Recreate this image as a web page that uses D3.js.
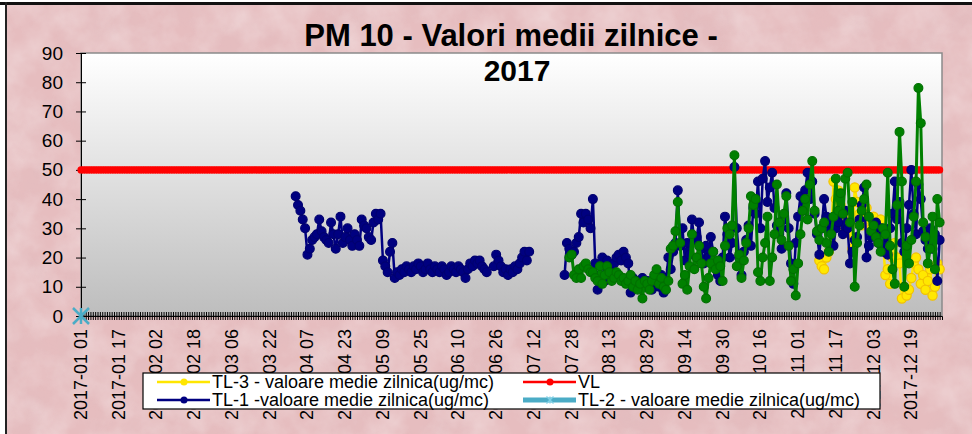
<!DOCTYPE html>
<html>
<head>
<meta charset="utf-8">
<script src="https://cdn.jsdelivr.net/npm/d3@7"></script>
<style>
  body { margin: 0; background: #fff; }
  svg { display: block; font-family: "Liberation Sans", Arial, sans-serif; }
</style>
</head>
<body>
<div id="chart"></div>
<script>
// ---- data (daily means, ug/mc) ----
const axisStart = "2017-01-01";
const axisEnd = "2018-01-01";
const yTicks = [0, 10, 20, 30, 40, 50, 60, 70, 80, 90];

const vlValue = 50;

const tl2Start = "2017-01-01";
const tl2Values = [0];

// TL-1 (navy): from 2 April, gap mid-July to end of July
const tl1Start = "2017-04-02";
const tl1Values = [
  41, 38, 36, 33, 30, 21, 23, 26, 27, 28,
  33, 29, 27, 26, 25, 32, 28, 23, 28, 34,
  25, 27, 30, 26, 24, 28, 26, 24, 33, 31,
  30, 27, 26, 32, 35, 33, 35, 19, 17, 15,
  22, 25, 13, 15, 14, 16, 15, 17, 16, 15,
  17, 16, 18, 17, 15, 16, 18, 16, 15, 17,
  16, 15, 17, 16, 14, 15, 17, 16, 15, 17,
  16, 15, 13, 16, 18, 17, 19, 18, 19, 17,
  16, 15, null, null, 17, 21, 19, 17, 15, 16,
  14, 16, 15, 17, 16, 18, 20, 22, 19, 22,
  null, null, null, null, null, null, null, null, null, null, null, null, null, null,
  14, 25, 23, 21, 22, 25, 27, 35, 32, 35,
  33, 30, 40, 18, 9, 14, 20, 12, 19, 17,
  16, 18, 20, 21, 19, 22, 20, 18, 8, 13,
  10, 12, 11, 13, 10, 12, 11, 9, 13, 12,
  10, 14, 8, 12, 20, 16, 22, 25, 43, 24,
  30, 19, 25, 21, 33, 26, 27, 32, 23, 18,
  24, 20, 27, 22, 17, 14, 12, 20, 34, 28,
  20, 25, 51, 30, 20, 14, 22, 26, 31, 24,
  37, 35, 46, 30, 47, 53, 39, 44, 49, 37,
  31, 28, 23, 33, 42, 30, 18, 11, 25, 34,
  41, 36, 43, 49, 40, 46, 35, 28, 21, 30,
  40, 34, 29, 33, 24, 30, 32, 35, 28, 36,
  30, 18, 22, 26, 27, 33, 38, 44, 20, 24,
  27, 29, 32, 25, 30, 22, 27, 21, 30, 35,
  46, 33, 39, 25, 22, 30, 38, 50, 35, 28,
  45, 40, 29, 26, 23, 30, 23, 28, 12, 26
];

// green station (not in the legend), from 27 July
const tl4Start = "2017-07-27";
const tl4Values = [
  20, 21, 14, 13, 16, 13, 17, 18, 16, 15,
  15, 13, 12, 17, 11, 14, 17, 15, 12, 13,
  15, 14, 12, 13, 11, 12, 14, 10, 12, 9,
  11, 6, 12, 11, 9, 12, 14, 16, 11, 13,
  10, 9, 12, 23, 24, 29, 39, 25, 11, 14,
  9, 17, 28, 16, 20, 24, 18, 10, 6, 13,
  18, 22, 16, 19, 17, 12, 24, 30, 28, 31,
  55, 17, 21, 13, 19, 25, 30, 41, 38, 40,
  15, 12, 20, 25, 34, 12, 20, 28, 45, 32,
  26, 35, 41, 24, 12, 16, 7, 18, 28, 36,
  40, 33, 45, 53, 36, 29, 26, 30, 32, 25,
  22, 28, 34, 47, 36, 42, 35, 47, 49, 32,
  39, 10, 25, 31, 36, 40, 45, 34, 29, 31,
  27, 25, 22, 30, 28, 49, 24, 16, 11, 38,
  63, 46, 10, 24, 18, 26, 34, 46, 78, 66,
  32, 27, 18, 23, 34, 16, 40, 32
];

// TL-3 (yellow), from 10 November
const tl3Start = "2017-11-10";
const tl3Values = [
  19, 17, 16, 20, 22, 25, 46, 40, 43, 38,
  32, 30, 35, 28, 23, 44, 39, 35, 31, 34,
  37, 33, 30, 34, 31, 28, 33, 25, 14, 16,
  11, 20, 25, 20, 18, 6, 10, 7, 9, 13,
  18, 20, 16, 11, 14, 9, 12, 16, 7, 10,
  18, 16
];

const legendLabels = [
  "TL-3 - valoare medie zilnica(ug/mc)",
  "VL",
  "TL-1 -valoare medie zilnica(ug/mc)",
  "TL-2 - valoare medie zilnica(ug/mc)"
];

// ---- layout ----
const svgWidth = 972, svgHeight = 434;
const plot = { left: 81, right: 942, top: 53, bottom: 316 };

const parseDate = d3.utcParse("%Y-%m-%d");
const toPoints = (start, values) => {
    const s = parseDate(start);
    return values.map((v, i) => ({ date: d3.utcDay.offset(s, i), value: v }));
};

const svg = d3.select("#chart")
    .append("svg")
    .attr("width", svgWidth)
    .attr("height", svgHeight);

const defs = svg.append("defs");

// pink paper texture: light and dark blotches
const paper = defs.append("filter").attr("id", "paper")
    .attr("x", 0).attr("y", 0).attr("width", "100%").attr("height", "100%");
paper.append("feTurbulence")
    .attr("type", "fractalNoise")
    .attr("baseFrequency", "0.03")
    .attr("numOctaves", 4)
    .attr("seed", 7)
    .attr("result", "noise");
paper.append("feColorMatrix")
    .attr("in", "noise")
    .attr("type", "matrix")
    .attr("values", "0 0 0 0 1  0 0 0 0 1  0 0 0 0 1  1.2 0 0 0 -0.4");

const dark = defs.append("filter").attr("id", "paperDark")
    .attr("x", 0).attr("y", 0).attr("width", "100%").attr("height", "100%");
dark.append("feTurbulence")
    .attr("type", "fractalNoise")
    .attr("baseFrequency", "0.02")
    .attr("numOctaves", 3)
    .attr("seed", 21)
    .attr("result", "noise");
dark.append("feColorMatrix")
    .attr("in", "noise")
    .attr("type", "matrix")
    .attr("values", "0 0 0 0 0.72  0 0 0 0 0.5  0 0 0 0 0.52  0 1.3 0 0 -0.55");

const grad = defs.append("linearGradient").attr("id", "plotGrad")
    .attr("x1", 0).attr("y1", 0).attr("x2", 0).attr("y2", 1);
grad.append("stop").attr("offset", "0%").attr("stop-color", "#ffffff");
grad.append("stop").attr("offset", "100%").attr("stop-color", "#bdbdbd");

// outer frame
svg.append("rect").attr("width", svgWidth).attr("height", svgHeight).attr("fill", "#ffffff");
svg.append("rect").attr("x", 0).attr("y", 2).attr("width", svgWidth).attr("height", 3).attr("fill", "#111");
svg.append("rect").attr("x", 5).attr("y", 2).attr("width", 2).attr("height", svgHeight).attr("fill", "#222");
svg.append("rect").attr("x", 7).attr("y", 5).attr("width", svgWidth - 7).attr("height", svgHeight - 5).attr("fill", "#e6bdbf");
svg.append("rect").attr("x", 7).attr("y", 5).attr("width", svgWidth - 7).attr("height", svgHeight - 5)
    .attr("filter", "url(#paperDark)").attr("opacity", 0.5);
svg.append("rect").attr("x", 7).attr("y", 5).attr("width", svgWidth - 7).attr("height", svgHeight - 5)
    .attr("filter", "url(#paper)").attr("opacity", 0.45);

// scales
const x = d3.scaleUtc()
    .domain([parseDate(axisStart), parseDate(axisEnd)])
    .range([plot.left, plot.right]);

const y = d3.scaleLinear()
    .domain([0, 90])
    .range([plot.bottom, plot.top]);

// plot area
svg.append("rect")
    .attr("x", plot.left).attr("y", plot.top)
    .attr("width", plot.right - plot.left).attr("height", plot.bottom - plot.top)
    .attr("fill", "url(#plotGrad)")
    .attr("stroke", "#8a8a8a")
    .attr("stroke-width", 1.5);

// title
svg.append("text")
    .attr("x", 511).attr("y", 46)
    .attr("text-anchor", "middle")
    .style("font-size", "31px").style("font-weight", "bold")
    .text("PM 10 - Valori medii zilnice -");
svg.append("text")
    .attr("x", 517).attr("y", 81)
    .attr("text-anchor", "middle")
    .style("font-size", "30px").style("font-weight", "bold")
    .text("2017");

// y axis
const yAxis = svg.append("g")
    .attr("transform", `translate(${plot.left}, 0)`)
    .call(d3.axisLeft(y).tickValues(yTicks).tickSize(5).tickPadding(13));
yAxis.select(".domain").attr("stroke", "#000");
yAxis.selectAll(".tick line").attr("x2", 5).attr("x1", -5).attr("stroke", "#000");
yAxis.selectAll(".tick text").style("font-size", "19px").attr("fill", "#000")
    .attr("font-family", null);

// x axis: a tick for every day, labels every 16 days
const days = d3.utcDay.range(parseDate(axisStart), parseDate(axisEnd));
const labelDays = d3.utcDay.range(parseDate(axisStart), parseDate(axisEnd), 16);

const xAxis = svg.append("g")
    .attr("transform", `translate(0, ${plot.bottom})`)
    .call(d3.axisBottom(x).tickValues(days).tickSize(4).tickFormat(""));
xAxis.select(".domain").attr("stroke", "#000");
xAxis.selectAll(".tick line").attr("y1", -4).attr("stroke", "#000");

const fmt = d3.utcFormat("%Y-%m %d");
svg.append("g")
    .selectAll("text")
    .data(labelDays)
    .enter().append("text")
    .attr("transform", d => `translate(${x(d) + 6}, ${plot.bottom + 13}) rotate(-90)`)
    .attr("text-anchor", "end")
    .style("font-size", "18px")
    .attr("fill", "#000")
    .text(d => fmt(d));

// series
const line = d3.line()
    .defined(d => d.value != null)
    .x(d => x(d.date))
    .y(d => y(d.value));

function drawSeries(points, stroke, width, fill, markerStroke, r) {
    const g = svg.append("g");
    g.append("path")
        .datum(points)
        .attr("fill", "none")
        .attr("stroke", stroke)
        .attr("stroke-width", width)
        .attr("stroke-linejoin", "round")
        .attr("d", line);
    g.selectAll("circle")
        .data(points.filter(d => d.value != null))
        .enter().append("circle")
        .attr("cx", d => x(d.date))
        .attr("cy", d => y(d.value))
        .attr("r", r)
        .attr("fill", fill)
        .attr("stroke", markerStroke)
        .attr("stroke-width", 1.2);
}

const vlPoints = days.map(d => ({ date: d, value: vlValue }));
drawSeries(vlPoints, "#ff0000", 6, "#ff0000", "#ff0000", 3);
drawSeries(toPoints(tl3Start, tl3Values), "#ffe600", 2.5, "#ffe800", "#f2c200", 4.6);
drawSeries(toPoints(tl1Start, tl1Values), "#000080", 2.5, "#000080", "#000070", 4.4);
drawSeries(toPoints(tl4Start, tl4Values), "#008000", 3, "#008000", "#007000", 4.4);

// TL-2 star marker
const star = (cx, cy, s) => `M${cx},${cy - s}L${cx},${cy + s}M${cx - s},${cy - s}L${cx + s},${cy + s}M${cx - s},${cy + s}L${cx + s},${cy - s}`;
svg.append("g")
    .selectAll("path")
    .data(toPoints(tl2Start, tl2Values))
    .enter().append("path")
    .attr("d", d => star(x(d.date), y(d.value), 8))
    .attr("stroke", "#4bacc6")
    .attr("stroke-width", 2.5)
    .attr("fill", "none");

// legend
const legend = svg.append("g");
legend.append("rect")
    .attr("x", 143).attr("y", 373)
    .attr("width", 737).attr("height", 36)
    .attr("fill", "#fff")
    .attr("stroke", "#000")
    .attr("stroke-width", 1.2);

const legendItems = [
    { label: legendLabels[0], color: "#ffe600", mark: "dot", x0: 157, yy: 382 },
    { label: legendLabels[1], color: "#ff0000", mark: "dot", x0: 523, yy: 382 },
    { label: legendLabels[2], color: "#000080", mark: "dot", x0: 157, yy: 400 },
    { label: legendLabels[3], color: "#4bacc6", mark: "star", x0: 523, yy: 400 }
];

legendItems.forEach(it => {
    legend.append("line")
        .attr("x1", it.x0).attr("x2", it.x0 + 53)
        .attr("y1", it.yy).attr("y2", it.yy)
        .attr("stroke", it.color)
        .attr("stroke-width", it.mark === "star" ? 5 : 2.5);
    if (it.mark === "dot") {
        legend.append("circle")
            .attr("cx", it.x0 + 27).attr("cy", it.yy).attr("r", 3.5)
            .attr("fill", it.color);
    } else {
        legend.append("path")
            .attr("d", star(it.x0 + 27, it.yy, 3.5))
            .attr("stroke", "#7fd0e6").attr("stroke-width", 1.2).attr("fill", "none");
    }
    legend.append("text")
        .attr("x", it.x0 + 55).attr("y", it.yy + 6)
        .style("font-size", "18px")
        .attr("fill", "#000")
        .text(it.label);
});
</script>
</body>
</html>
